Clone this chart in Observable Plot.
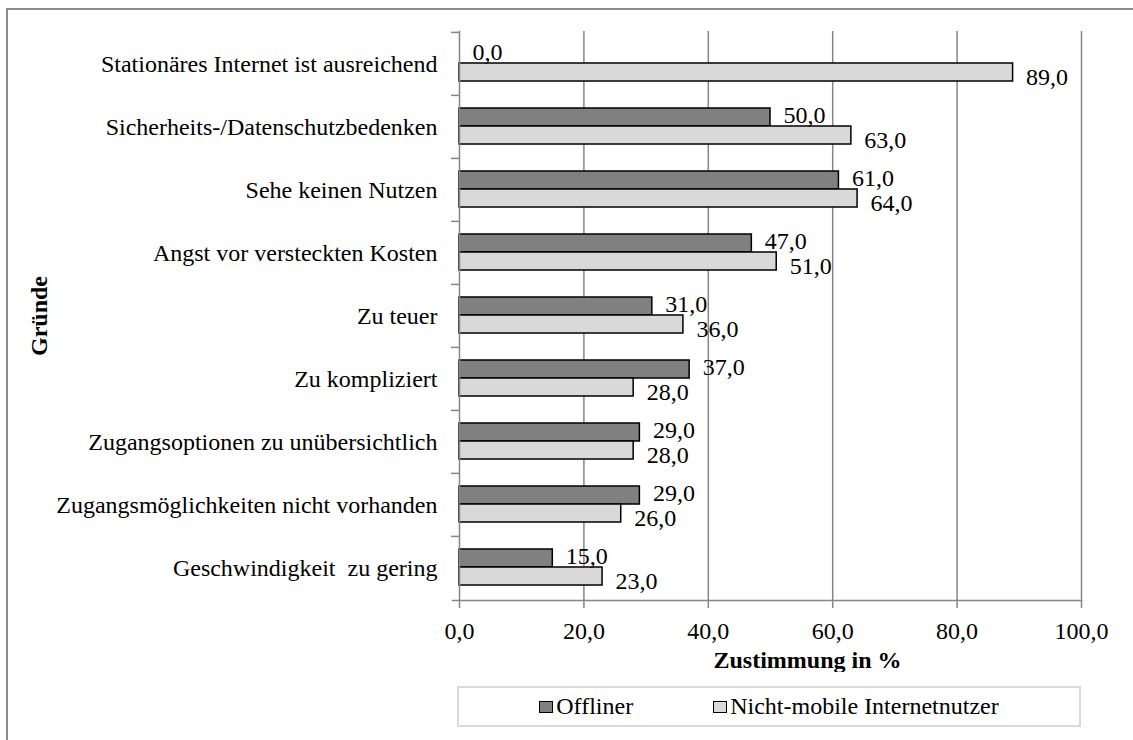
<!DOCTYPE html>
<html>
<head>
<meta charset="utf-8">
<script src="https://cdn.jsdelivr.net/npm/d3@7"></script>
<script src="https://cdn.jsdelivr.net/npm/@observablehq/plot@0.6"></script>
<style>
  body { margin: 0; background: #fff; }
  #wrap { position: relative; width: 1133px; height: 740px; overflow: hidden; font-family: "Liberation Serif", "Times New Roman", serif; }
  #frame { position: absolute; left: 6px; top: 8px; width: 1200px; height: 800px; border-left: 2px solid #8c8c8c; border-top: 2px solid #8c8c8c; }
  #chart { position: absolute; left: 0; top: 0; }
  #legend { position: absolute; left: 457px; top: 686px; width: 620px; height: 37px; border: 2px solid #d9d9d9; display: flex; justify-content: center; align-items: center; gap: 80px; font-size: 24px; color: #000; }
  .item { display: flex; align-items: center; }
  .sw { display: inline-block; width: 12px; height: 10px; border: 1.5px solid #000; margin-right: 3px; }
</style>
</head>
<body>
<div id="wrap">
  <div id="frame"></div>
  <div id="chart"></div>
  <div id="legend"></div>
</div>
<script>
const categories = [
  "Stationäres Internet ist ausreichend",
  "Sicherheits-/Datenschutzbedenken",
  "Sehe keinen Nutzen",
  "Angst vor versteckten Kosten",
  "Zu teuer",
  "Zu kompliziert",
  "Zugangsoptionen zu unübersichtlich",
  "Zugangsmöglichkeiten nicht vorhanden",
  "Geschwindigkeit  zu gering"
];
const offliner = [0, 50, 61, 47, 31, 37, 29, 29, 15];
const nichtMobil = [89, 63, 64, 51, 36, 28, 28, 26, 23];
const seriesNames = ["Offliner", "Nicht-mobile Internetnutzer"];
const seriesColors = ["#808080", "#d9d9d9"];
const xTicks = [0, 20, 40, 60, 80, 100];
const xLabel = "Zustimmung in %";
const yLabel = "Gründe";

const fmt = v => v.toFixed(1).replace(".", ",");
const dark = categories.map((c, i) => ({cat: c, v: offliner[i]}));
const light = categories.map((c, i) => ({cat: c, v: nichtMobil[i]}));
const axisColor = "#868686";

const chart = Plot.plot({
  width: 1133,
  height: 672,
  marginLeft: 459,
  marginRight: 52,
  marginTop: 31,
  marginBottom: 72,
  style: {fontFamily: "'Liberation Serif', 'Times New Roman', serif", fontSize: "24px", background: "transparent", color: "#000"},
  x: {domain: [0, 100], ticks: xTicks},
  y: {domain: categories, padding: 0},
  marks: [
    Plot.gridX(xTicks.slice(1), {stroke: axisColor, strokeOpacity: 1, strokeWidth: 1.5}),
    Plot.barX(dark, {x: "v", y: "cat", fill: seriesColors[0], stroke: "#000", strokeWidth: 1.5, insetTop: 13, insetBottom: 32}),
    Plot.barX(light, {x: "v", y: "cat", fill: seriesColors[1], stroke: "#000", strokeWidth: 1.5, insetTop: 31, insetBottom: 14}),
    Plot.text(dark, {x: "v", y: "cat", text: d => fmt(d.v), textAnchor: "start", dx: 13, dy: -12, fill: "#000"}),
    Plot.text(light, {x: "v", y: "cat", text: d => fmt(d.v), textAnchor: "start", dx: 13, dy: 13, fill: "#000"}),
    Plot.axisY({tickSize: 0, tickPadding: 22, label: null}),
    Plot.axisY({tickSize: 8, text: null, dy: -31.6, stroke: axisColor, strokeWidth: 1.5, label: null}),
    Plot.axisX({ticks: xTicks, tickSize: 8, tickPadding: 13, tickFormat: fmt, label: null, stroke: axisColor, strokeWidth: 1.5}),
    Plot.frame({anchor: "left", stroke: axisColor, strokeWidth: 1.5}),
    Plot.frame({anchor: "bottom", stroke: axisColor, strokeWidth: 1.5, insetLeft: -7}),
    Plot.text([xLabel], {frameAnchor: "bottom", dx: 37, dy: 60, fontWeight: "bold", lineAnchor: "middle", fill: "#000"}),
    Plot.text([yLabel], {frameAnchor: "left", dx: -420, rotate: -90, textAnchor: "middle", fontWeight: "bold", lineAnchor: "middle", fill: "#000"})
  ]
});
document.getElementById("chart").appendChild(chart);

const legend = document.getElementById("legend");
seriesNames.forEach((name, i) => {
  const item = document.createElement("div");
  item.className = "item";
  const sw = document.createElement("span");
  sw.className = "sw";
  sw.style.background = seriesColors[i];
  const label = document.createElement("span");
  label.textContent = name;
  item.appendChild(sw);
  item.appendChild(label);
  legend.appendChild(item);
});
</script>
</body>
</html>
